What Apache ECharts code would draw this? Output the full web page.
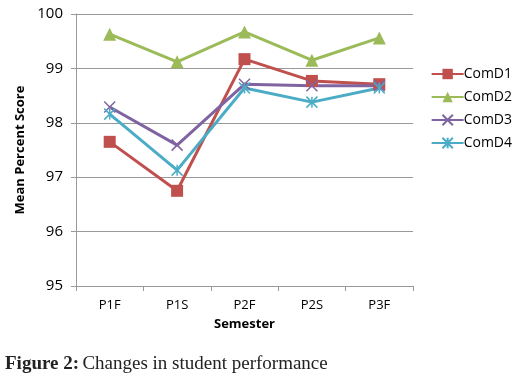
<!DOCTYPE html>
<html><head><meta charset="utf-8">
<script src="https://cdn.jsdelivr.net/npm/echarts@6/dist/echarts.min.js"></script>
<style>html,body{margin:0;padding:0;background:#fff}#c{width:521px;height:381px}</style>
</head><body><div id="c"></div>
<script>
const categories = ['P1F','P1S','P2F','P2S','P3F'];
const comD1 = [97.65, 96.75, 99.17, 98.77, 98.71];
const comD2 = [99.63, 99.12, 99.67, 99.15, 99.56];
const comD3 = [98.29, 97.59, 98.71, 98.68, 98.68];
const comD4 = [98.16, 97.13, 98.64, 98.38, 98.64];
const seriesNames = ['ComD1','ComD2','ComD3','ComD4'];
const yTicks = [95, 96, 97, 98, 99, 100];

const colors = ['#C0504D','#9BBB59','#8064A2','#4BACC6'];
const symbols = ['rect','triangle','path://M0,0L10,10M10,0L0,10','path://M0,0L10,10M10,0L0,10M5,0L5,10'];
const symbolSizes = [12, 13, 11, 11];
const data = [comD1, comD2, comD3, comD4];

const chart = echarts.init(document.getElementById('c'));
chart.setOption({
  animation: false,
  grid: {left: 76, right: 108, top: 14, bottom: 95},
  legend: {
    orient: 'vertical', right: 4, top: 62, itemGap: 9,
    itemWidth: 32, itemHeight: 13,
    textStyle: {fontFamily: 'Open Sans', fontSize: 14, color: '#000', padding: [0,0,0,-5]},
    data: seriesNames
  },
  xAxis: {
    type: 'category', data: categories, boundaryGap: true,
    name: 'Semester', nameLocation: 'middle', nameGap: 32,
    nameTextStyle: {fontFamily: 'Open Sans', fontWeight: 'bold', fontSize: 13, color: '#000'},
    axisLine: {lineStyle: {color: '#999', width: 1}},
    axisTick: {show: true, alignWithLabel: false, length: 5, lineStyle: {color: '#999'}},
    axisLabel: {fontFamily: 'Open Sans', fontSize: 13, color: '#000', margin: 13}
  },
  yAxis: {
    type: 'value', min: yTicks[0], max: yTicks[yTicks.length-1], interval: 1,
    name: 'Mean Percent Score', nameLocation: 'middle', nameGap: 47, nameRotate: 90,
    nameTextStyle: {fontFamily: 'Open Sans', fontWeight: 'bold', fontSize: 13, color: '#000'},
    axisLine: {show: true, lineStyle: {color: '#999', width: 1}},
    axisTick: {show: true, length: 5, lineStyle: {color: '#999'}},
    axisLabel: {fontFamily: 'Open Sans', fontSize: 15, color: '#000', margin: 13},
    splitLine: {lineStyle: {color: '#999', width: 1}}
  },
  series: seriesNames.map((n, i) => ({
    name: n, type: 'line', data: data[i],
    symbol: symbols[i], symbolSize: symbolSizes[i], showAllSymbol: true,
    lineStyle: {color: colors[i], width: 3},
    itemStyle: {color: colors[i], borderColor: colors[i], borderWidth: i >= 2 ? 1.5 : 0}
  })),
  graphic: [{
    type: 'text', left: 5, top: 355,
    style: {
      rich: {
        b: {fontFamily: 'Liberation Serif', fontWeight: 'bold', fontSize: 19, fill: '#222'},
        n: {fontFamily: 'Liberation Serif', fontSize: 19, fill: '#222'}
      },
      text: '{b|Figure 2:} {n|Changes in student performance}'
    }
  }]
});
</script></body></html>
